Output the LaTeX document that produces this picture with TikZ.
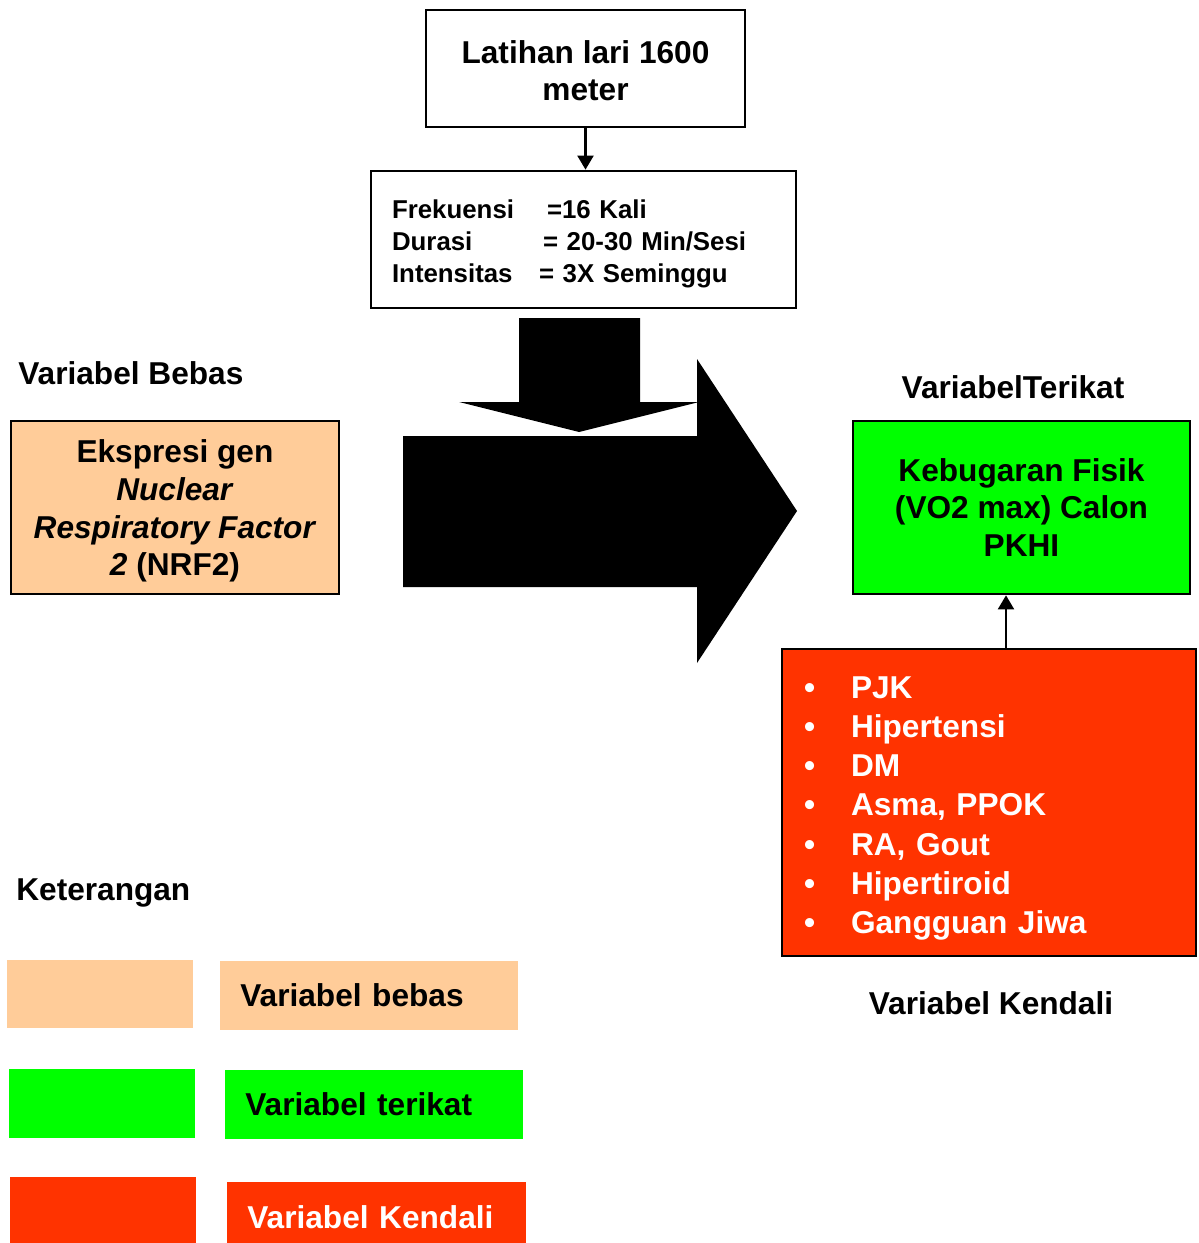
\documentclass[tikz,border=0pt]{standalone}
\usepackage{fontspec}
\setmainfont{Liberation Sans}
\usetikzlibrary{arrows.meta}
\definecolor{peach}{HTML}{FFCC99}
\definecolor{hijau}{HTML}{00FF00}
\definecolor{merah}{HTML}{FF3300}
\tikzset{
        kotak/.style={draw=black,line width=1.5pt,inner sep=0pt},
        besar/.style={font=\bfseries\fontsize{18}{21.5}\selectfont},
        panah/.style={line width=1.5pt,-{Triangle[width=9pt,length=8pt]}},
        warna/.style={fill=#1,draw=none,inner sep=0pt}
}
\begin{document}
\begin{tikzpicture}[x=0.02cm,y=-0.02cm]
        \useasboundingbox (0,0) rectangle (1198,1243);
        \node[kotak,besar,align=center,minimum width=6.38cm,minimum height=2.34cm] (lat) at (585.5,68.5) {\rule{0pt}{15.5pt}Latihan lari 1600\\meter};
        \node[kotak,font=\bfseries\fontsize{14.7}{18}\selectfont,text width=7.66cm,inner xsep=0.42cm,minimum height=2.74cm,align=left] (frek) at (583.5,239.5) {\rule{0pt}{15.5pt}\makebox[3.1cm][l]{Frekuensi}=16 Kali\\\makebox[3.02cm][l]{Durasi}= 20-30 Min/Sesi\\\makebox[2.94cm][l]{Intensitas}= 3X Seminggu};
        \draw[panah] (lat.south) -- (lat.south |- frek.north);
        \fill [black] (519,318) -- (640,318) -- (640,402) -- (699,402) -- (579,432) -- (459,402) -- (519,402) -- cycle;
        \fill [black] (403,436) -- (697,436) -- (697,359) -- (797,511) -- (697,663) -- (697,587) -- (403,587) -- cycle;
        \node[besar,anchor=west,inner sep=0pt] (jbebas) at (18,373) {Variabel Bebas};
        \node[kotak,fill=peach,besar,align=center,minimum width=6.56cm,minimum height=3.46cm] (bebas) at (175,507.5) {\rule{0pt}{17pt}Ekspresi gen\\\textit{Nuclear}\\\textit{Respiratory Factor}\\\textit{2} (NRF2)};
        \node[besar,inner sep=0pt] (jterikat) at (1013,387) {VariabelTerikat};
        \node[kotak,fill=hijau,besar,align=center,minimum width=6.74cm,minimum height=3.46cm] (terikat) at (1021.5,507.5) {Kebugaran Fisik\\(VO2 max) Calon\\PKHI};
        \node[kotak,fill=merah,text=white,font=\bfseries\fontsize{18}{22.3}\selectfont,text width=7.4cm,inner xsep=0.44cm,minimum height=6.14cm,align=left] (kendali) at (989,802.5) {\rule{0pt}{19pt}\makebox[0.94cm][l]{\textbullet}PJK\\\makebox[0.94cm][l]{\textbullet}Hipertensi\\\makebox[0.94cm][l]{\textbullet}DM\\\makebox[0.94cm][l]{\textbullet}Asma, PPOK\\\makebox[0.94cm][l]{\textbullet}RA, Gout\\\makebox[0.94cm][l]{\textbullet}Hipertiroid\\\makebox[0.94cm][l]{\textbullet}Gangguan Jiwa};
        \draw[panah] ([xshift=0.34cm]kendali.north) -- ([xshift=0.34cm]kendali.north |- terikat.south);
        \node[besar,inner sep=0pt] (jkendali) at (991,1003) {Variabel Kendali};
        \node[besar,anchor=west,inner sep=0pt] (ket) at (16,893) {Keterangan};
        \node[warna=peach,minimum width=3.72cm,minimum height=1.36cm] (sbebas) at (100,994) {};
        \node[warna=peach,besar,anchor=west,text width=5.16cm,inner xsep=0.4cm,minimum height=1.38cm,align=left] (lbebas) at (220,995.5) {Variabel bebas};
        \node[warna=hijau,minimum width=3.72cm,minimum height=1.38cm] (sterikat) at (102,1103.5) {};
        \node[warna=hijau,besar,anchor=west,text width=5.16cm,inner xsep=0.4cm,minimum height=1.38cm,align=left] (lterikat) at (225,1104.5) {Variabel terikat};
        \node[warna=merah,minimum width=3.72cm,minimum height=1.32cm] (skendali) at (103,1210) {};
        \node[warna=merah,besar,text=white,anchor=west,text width=5.18cm,inner xsep=0.4cm,minimum height=1.22cm,align=left] (lkendali) at (227,1212.5) {\rule{0pt}{18.5pt}Variabel Kendali};
\end{tikzpicture}
\end{document}
